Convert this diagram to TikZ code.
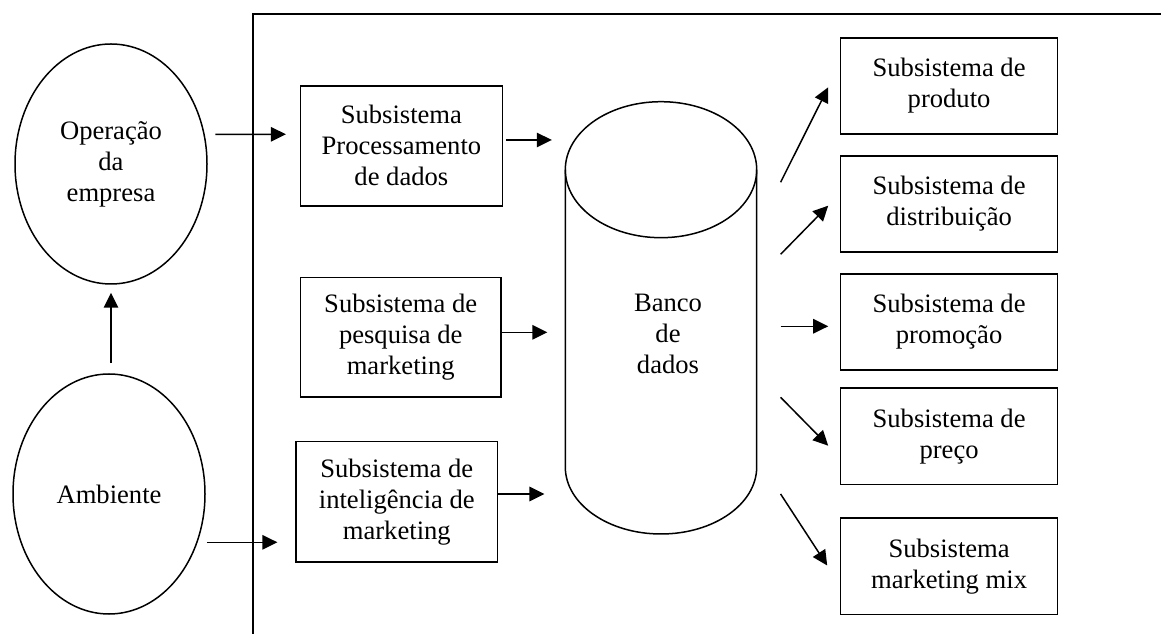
\documentclass[tikz,border=0pt]{standalone}
\usepackage{fontspec}
\setmainfont{Liberation Serif}
\usetikzlibrary{shapes.geometric,arrows.meta}
\begin{document}
\begin{tikzpicture}[x=1pt,y=1pt,
  txt/.style={font=\fontsize{26.6}{31}\selectfont, align=center, inner sep=0pt},
  ell/.style={txt, draw, ellipse, line width=1.5pt, minimum width=192pt, minimum height=240pt},
  sbox/.style={txt, draw, rectangle, line width=1.6pt},
  rbox/.style={sbox, minimum width=217pt, minimum height=96.5pt},
  arr/.style={line width=1.5pt, -{Triangle[length=15pt,width=14.5pt]}},
  framestyle/.style={line width=1.7pt},
  cylline/.style={line width=1.5pt}]
\useasboundingbox (0,0) rectangle (1161,634);

% frame
\coordinate (fb) at (252.7,0);
\coordinate (fc) at (252.7,620);
\coordinate (fr) at (1161,620);
\draw[framestyle] (fb) -- (fc) -- (fr);

% ellipses
\node[ell] (op) at (111,470) {Operação\\da\\empresa};
\node[ell] (amb) at (109,140) {Ambiente};

% left boxes
\node[sbox, minimum width=202pt, minimum height=120.3pt] (proc) at (401.4,488.1) {Subsistema\\Processamento\\de dados};
\node[sbox, minimum width=200.6pt, minimum height=119.6pt] (pesq) at (400.7,296.5) {Subsistema de\\pesquisa de\\marketing};
\node[sbox, minimum width=201.6pt, minimum height=120.6pt] (intel) at (396.8,132) {Subsistema de\\inteligência de\\marketing};

% cylinder
\node[minimum width=191.4pt, minimum height=432.3pt, inner sep=0pt] (cyl) at (661,316.2) {};
\draw[cylline] (661,464.3) ellipse [x radius=95.7pt, y radius=68pt];
\draw[cylline] (565.3,464.3) -- (565.3,167) arc[start angle=180, end angle=360, x radius=95.7pt, y radius=67pt] -- (756.7,464.3);
\node[txt] (banco) at (668,299.7) {Banco\\de\\dados};

% right boxes
\node[rbox] (prod) at (949.1,548) {Subsistema de\\produto};
\node[rbox] (dist) at (949.1,430) {Subsistema de\\distribuição};
\node[rbox] (promo) at (949.1,312) {Subsistema de\\promoção};
\node[rbox] (preco) at (949.1,197.8) {Subsistema de\\preço};
\node[rbox] (mix) at (949.1,67.8) {Subsistema\\marketing mix};

% connectors
\draw[arr] ([xshift=7.6pt,yshift=29.7pt]op.east) -- ([xshift=-13.7pt,yshift=11.6pt]proc.west);
\draw[arr] ([xshift=1pt,yshift=-48.3pt]amb.east) -- ([xshift=-17.8pt,yshift=-40.3pt]intel.west);
\draw[arr] ([xshift=2pt,yshift=10pt]amb.north) -- ([yshift=-8pt]op.south);

\draw[arr] ([xshift=2.6pt,yshift=5.9pt]proc.east) -- ([xshift=-13.3pt,yshift=177.8pt]cyl.west);
\draw[arr] ([yshift=5.2pt]pesq.east) -- ([xshift=-17.8pt,yshift=-14.5pt]cyl.west);
\draw[arr] ([yshift=8pt]intel.east) -- ([xshift=-20.7pt,yshift=-176.2pt]cyl.west);

\draw[arr] ([xshift=23.7pt,yshift=135.5pt]cyl.east) -- ([xshift=-11.6pt,yshift=-1.3pt]prod.west);
\draw[arr] ([xshift=23.7pt,yshift=63.5pt]cyl.east) -- ([xshift=-11.6pt,yshift=-1.7pt]dist.west);
\draw[arr] ([xshift=23.7pt,yshift=-8.5pt]cyl.east) -- ([xshift=-11.6pt,yshift=-4.3pt]promo.west);
\draw[arr] ([xshift=23.7pt,yshift=-79.5pt]cyl.east) -- ([xshift=-11.6pt,yshift=-9.5pt]preco.west);
\draw[arr] ([xshift=23.7pt,yshift=-176.2pt]cyl.east) -- ([xshift=-12.6pt,yshift=0.7pt]mix.west);
\end{tikzpicture}
\end{document}
